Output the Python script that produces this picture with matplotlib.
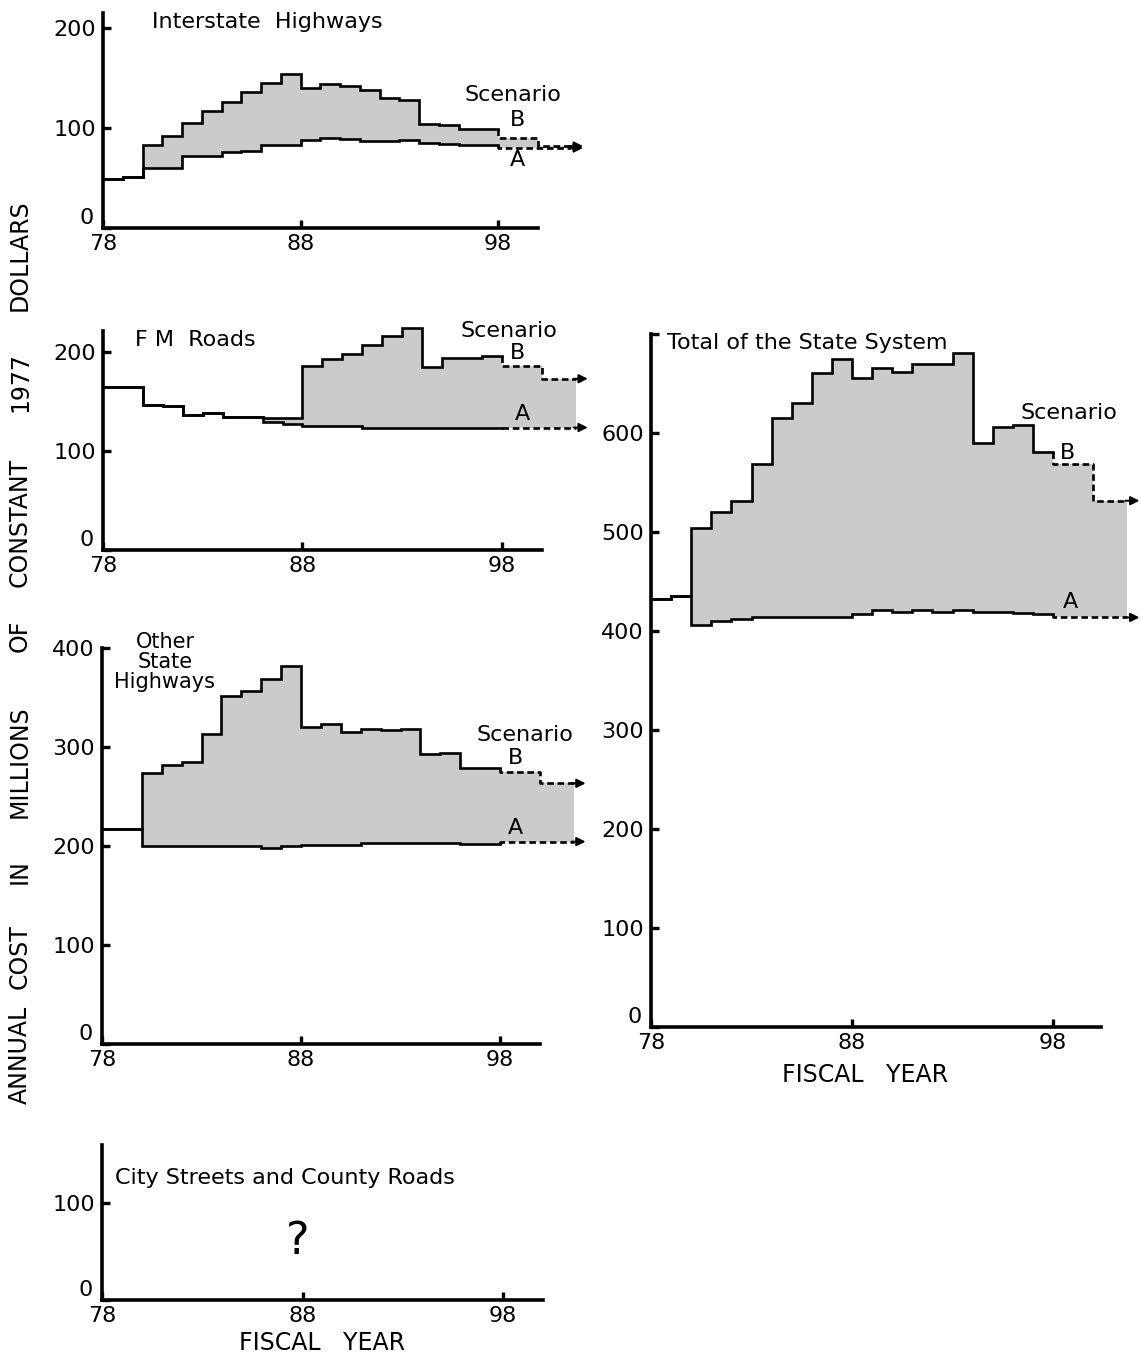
import numpy as np
import matplotlib.pyplot as plt
from matplotlib.transforms import ScaledTranslation

W, H = 1141, 1357

# fiscal years: solid history/plan 78..98, dashed projection after 98
years = np.arange(78, 99)
proj_years = [98, 99, 100, 101.7]

# Interstate Highways
int_b = [49, 51, 83.5, 91.7, 104.6, 117.2, 125.7, 136.3, 145.5, 153.8,
         140.3, 143.6, 142.2, 138.3, 129.7, 128.4, 104, 102.6, 99, 99]
int_a = [49, 51, 60.4, 60.4, 71.6, 72.5, 76, 77.5, 83, 83,
         88.4, 90, 89, 86.8, 87.5, 88.4, 85, 84, 83, 83]
int_b_proj = [90, 90, 82]
int_a_proj = [80, 80, 80]

# FM Roads
fm_b = [164.5, 164.5, 146, 145, 136, 138.8, 134.8, 134.8, 133.8, 133.8,
        185.6, 193.3, 198, 206.7, 215.7, 224, 184.6, 194, 194, 195.6]
fm_a = [164.5, 164.5, 146, 145, 136, 138.8, 134.8, 134.8, 128.8, 127,
        125.4, 125.4, 125.4, 123.7, 123.7, 123.7, 123.7, 123.7, 123.7, 123.7]
fm_b_proj = [186.3, 186.3, 173]
fm_a_proj = [123.7, 123.7, 123.7]

# Other State Highways
oth_b = [217.3, 217.3, 273.3, 281.7, 285, 312.7, 351.7, 356.7, 369, 382,
         320.7, 323.3, 315, 317.7, 316.7, 318.3, 293.3, 294.3, 279, 278.3]
oth_a = [217.3, 217.3, 200, 200, 200, 200, 200, 200, 198.3, 200,
         201, 201, 201, 203.4, 203.4, 203.4, 203.4, 203.4, 202.4, 202.4]
oth_b_proj = [274.3, 274.3, 263.3]
oth_a_proj = [204.4, 204.4, 204.4]

# Total of the State System
tot_b = [432.5, 435, 504, 519.7, 531.6, 568.5, 614.7, 630, 660.9, 675,
         655.4, 665.6, 662, 670, 670, 681, 590.4, 606, 608.5, 581]
tot_a = [432.5, 435, 405.8, 409.6, 412, 413.7, 413.7, 413.7, 413.7, 413.7,
         417, 421.5, 419.5, 421.5, 419.5, 421.5, 419.5, 418.8, 418, 417]
tot_b_proj = [569, 569, 531.6]
tot_a_proj = [413.7, 413.7, 413.7]

GRAY = '#cbcbcb'
LW = 1.9

fig = plt.figure(figsize=(W / 100, H / 100), dpi=100)


def make_axes(x78, px_year, y0, px_unit, xmax, ytop, spine_top, yticks, xend=100):
    rect = [x78 / W, 1 - y0 / H, (xmax - 78) * px_year / W, ytop * px_unit / H]
    ax = fig.add_axes(rect)
    ax.set_xlim(78, xmax)
    ax.set_ylim(0, ytop)
    ax.patch.set_alpha(0)
    ax.spines['top'].set_visible(False)
    ax.spines['right'].set_visible(False)
    ax.spines['left'].set_bounds(0, spine_top)
    ax.spines['bottom'].set_bounds(78, xend)
    for s in ['left', 'bottom']:
        ax.spines[s].set_linewidth(2.6)
        ax.spines[s].set_capstyle('projecting')
    ax.set_xticks([78, 88, 98])
    ax.set_yticks(yticks)
    ax.set_yticklabels([str(t) if t <= 600 else '' for t in yticks])
    ax.tick_params(direction='in', length=6, width=2.4, labelsize=16, pad=5)
    ax.tick_params(axis='x', pad=4)
    # the zero sits a little above the axis line, clear of the 78
    zero = ax.get_yticklabels()[0]
    zero.set_transform(zero.get_transform() + ScaledTranslation(-0.02, 0.12, fig.dpi_scale_trans))
    return ax


def stair_xy(edges, vals, start=None):
    x = np.repeat(edges, 2)[1:-1]
    y = np.repeat(vals, 2)
    if start is not None:
        x = np.r_[edges[0], x]
        y = np.r_[start, y]
    return x, y


def draw_panel(ax, b, a, b_proj, a_proj):
    edges_all = np.r_[years, proj_years[1:]]
    ax.stairs(np.r_[b, b_proj], edges_all, baseline=np.r_[a, a_proj],
              fill=True, color=GRAY, lw=0)
    for vals, proj in [(b, b_proj), (a, a_proj)]:
        x, y = stair_xy(years, vals)
        ax.plot(x, y, color='k', lw=LW, solid_joinstyle='miter')
        x, y = stair_xy(proj_years, proj, start=vals[-1])
        ax.plot(x, y, color='k', lw=LW, ls=(0, (2.5, 1.4)))
        ax.annotate('', xy=(proj_years[-1] + 0.6, proj[-1]),
                    xytext=(proj_years[-1] - 0.1, proj[-1]),
                    arrowprops=dict(arrowstyle='-|>', color='k', lw=1.4,
                                    shrinkA=0, shrinkB=0, mutation_scale=13))


def label(x, y, s, ha='left', size=16, **kw):
    fig.text(x / W, 1 - y / H, s, ha=ha, va='center', fontsize=size, **kw)


ax1 = make_axes(103, 19.75, 228, 1.0, 103, 215, 215, [0, 100, 200])
draw_panel(ax1, int_b, int_a, int_b_proj, int_a_proj)

ax2 = make_axes(103, 19.95, 550, 0.99, 103, 226, 221, [0, 100, 200])
draw_panel(ax2, fm_b, fm_a, fm_b_proj, fm_a_proj)

ax3 = make_axes(102, 19.9, 1044, 0.99, 103, 400, 400, [0, 100, 200, 300, 400])
draw_panel(ax3, oth_b, oth_a, oth_b_proj, oth_a_proj)

ax4 = make_axes(651, 20.1, 1027, 0.99, 102.5, 700, 700,
                [0, 100, 200, 300, 400, 500, 600, 700], xend=100.4)
draw_panel(ax4, tot_b, tot_a, tot_b_proj, tot_a_proj)

ax5 = make_axes(102, 20.05, 1300, 0.97, 103, 160, 160, [0, 100])

# panel titles and scenario marks
label(152, 22, 'Interstate  Highways')
label(465, 95, 'Scenario')
label(517, 120, 'B', ha='center')
label(517, 160, 'A', ha='center')

label(135, 340, 'F M  Roads')
label(460, 331, 'Scenario')
label(518, 353, 'B', ha='center')
label(522, 414, 'A', ha='center')

label(165, 662, 'Other\nState\nHighways', ha='center', size=15, linespacing=0.98)
label(477, 735, 'Scenario')
label(515, 758, 'B', ha='center')
label(515, 828, 'A', ha='center')

label(667, 343, 'Total of the State System')
label(1020, 413, 'Scenario')
label(1068, 453, 'B', ha='center')
label(1070, 602, 'A', ha='center')

label(115, 1178, 'City Streets and County Roads')
label(298, 1242, '?', ha='center', size=32)

label(865, 1075, 'FISCAL   YEAR', ha='center', size=17)
label(322, 1343, 'FISCAL   YEAR', ha='center', size=17)

# y axis title, word by word up the left margin
ylabel_words = ['ANNUAL', 'COST', 'IN', 'MILLIONS', 'OF', 'CONSTANT', '1977', 'DOLLARS']
ylabel_pos = [1055, 957, 872, 762, 636, 522, 382, 255]
for word, yy in zip(ylabel_words, ylabel_pos):
    label(20, yy, word, ha='center', size=17, rotation=90)

fig.savefig('out.png', dpi=100)
